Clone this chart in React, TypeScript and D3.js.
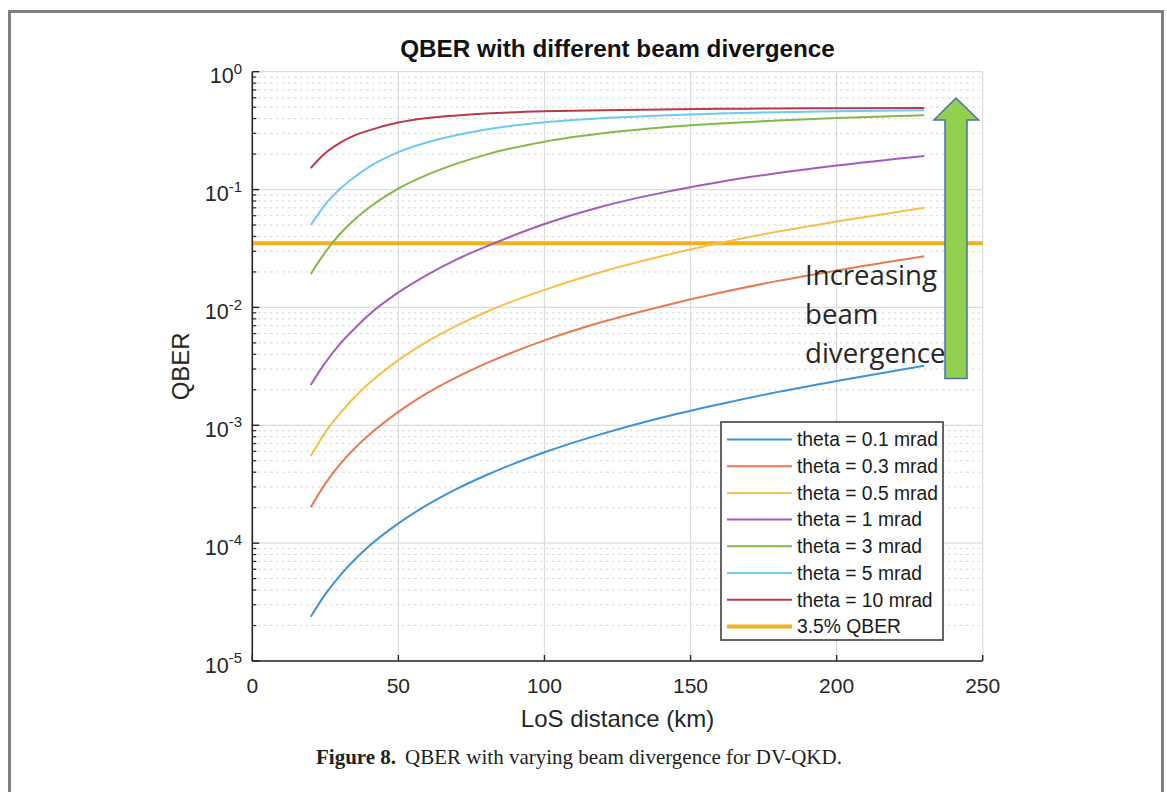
import React from "react";
import * as d3 from "d3";

// LoS distance samples (km)
const distances = [20, 25, 30, 35, 40, 50, 60, 70, 80, 100, 120, 140, 160, 180, 200, 230];

// QBER for each beam divergence, one value per distance sample
const qberTheta01 = [2.37e-5, 3.69e-5, 5.31e-5, 7.23e-5, 9.44e-5, 1.47e-4, 2.12e-4, 2.89e-4, 3.77e-4, 5.9e-4, 8.5e-4, 1.16e-3, 1.51e-3, 1.92e-3, 2.38e-3, 3.2e-3];
const qberTheta03 = [2.02e-4, 3.2e-4, 4.65e-4, 6.35e-4, 8.3e-4, 1.3e-3, 1.88e-3, 2.56e-3, 3.35e-3, 5.25e-3, 7.55e-3, 0.0102, 0.0133, 0.0168, 0.0206, 0.0272];
const qberTheta05 = [5.5e-4, 8.7e-4, 1.26e-3, 1.73e-3, 2.27e-3, 3.57e-3, 5.15e-3, 7.0e-3, 9.15e-3, 0.0141, 0.0202, 0.0272, 0.0352, 0.044, 0.0535, 0.07];
const qberTheta1 = [2.2e-3, 3.4e-3, 4.9e-3, 6.6e-3, 8.7e-3, 0.0134, 0.019, 0.0256, 0.0328, 0.051, 0.0722, 0.0937, 0.116, 0.138, 0.16, 0.193];
const qberTheta3 = [0.0192, 0.0295, 0.042, 0.0558, 0.0705, 0.102, 0.134, 0.166, 0.198, 0.255, 0.3, 0.336, 0.364, 0.386, 0.404, 0.428];
const qberTheta5 = [0.05, 0.075, 0.101, 0.128, 0.156, 0.208, 0.252, 0.29, 0.323, 0.373, 0.404, 0.426, 0.442, 0.453, 0.461, 0.471];
const qberTheta10 = [0.152, 0.204, 0.249, 0.288, 0.318, 0.37, 0.404, 0.425, 0.441, 0.461, 0.472, 0.479, 0.484, 0.487, 0.49, 0.492];

const seriesLabels = [
  "theta = 0.1 mrad",
  "theta = 0.3 mrad",
  "theta = 0.5 mrad",
  "theta = 1 mrad",
  "theta = 3 mrad",
  "theta = 5 mrad",
  "theta = 10 mrad",
];
const seriesValues = [qberTheta01, qberTheta03, qberTheta05, qberTheta1, qberTheta3, qberTheta5, qberTheta10];
const seriesColors = ["#3d93d5", "#e77a4f", "#f2c14e", "#a25dbb", "#84b84a", "#6ccaf0", "#b8394e"];

// QBER threshold line
const thresholdLabel = "3.5% QBER";
const thresholdValue = 0.035;
const thresholdColor = "#f2b01e";

const xTicks = [0, 50, 100, 150, 200, 250];
const yDecades = [-5, -4, -3, -2, -1, 0];

const titleText = "QBER with different beam divergence";
const xLabel = "LoS distance (km)";
const yLabel = "QBER";
const noteLines = ["Increasing", "beam", "divergence"];
const captionLead = "Figure 8.";
const captionBody = "QBER with varying beam divergence for DV-QKD.";

const SANS = "'Liberation Sans', Arial, Helvetica, sans-serif";

export default function App() {
  const left = 252.3;
  const right = 982.7;
  const top = 71.7;
  const bottom = 661;

  const x = d3.scaleLinear().domain([0, 250]).range([left, right]);
  const y = d3.scaleLog().domain([1e-5, 1]).range([bottom, top]);

  const line = d3
    .line<[number, number]>()
    .x((d) => x(d[0]))
    .y((d) => y(d[1]))
    .curve(d3.curveMonotoneX);

  const minorValues: number[] = [];
  yDecades.slice(0, -1).forEach((e) => {
    for (let m = 2; m <= 9; m++) minorValues.push(m * Math.pow(10, e));
  });

  const axisColor = "#262626";

  // legend geometry
  const lgX = 721;
  const lgY = 422;
  const lgW = 222;
  const lgH = 218;
  const rowH = 26.7;
  const firstRow = 439.5;

  // green block arrow
  const shaftL = 945, shaftR = 967, shaftBottom = 378.5;
  const headL = 934, headR = 978.5, headBase = 120, tipX = 956, tipY = 98;
  const arrowPath = `M${shaftL},${shaftBottom} L${shaftL},${headBase} L${headL},${headBase} L${tipX},${tipY} L${headR},${headBase} L${shaftR},${headBase} L${shaftR},${shaftBottom} Z`;

  return (
    <svg
      width={1167}
      height={792}
      style={{ position: "absolute", left: 0, top: 0, background: "#fff" }}
    >
      <rect x={0} y={0} width={1167} height={792} fill="#fff" />
      {/* outer frame */}
      <rect x={9.5} y={11.5} width={1153} height={900} fill="none" stroke="#808080" strokeWidth={3} />

      {/* minor grid */}
      {minorValues.map((v, i) => (
        <line
          key={"mg" + i}
          x1={left}
          x2={right}
          y1={y(v)}
          y2={y(v)}
          stroke="#cccccc"
          strokeWidth={1}
          strokeDasharray="2,4"
        />
      ))}
      {/* major grid */}
      {yDecades.map((e) => (
        <line key={"gy" + e} x1={left} x2={right} y1={y(Math.pow(10, e))} y2={y(Math.pow(10, e))} stroke="#dcdcdc" strokeWidth={1.2} />
      ))}
      {xTicks.map((t) => (
        <line key={"gx" + t} x1={x(t)} x2={x(t)} y1={top} y2={bottom} stroke="#dcdcdc" strokeWidth={1.2} />
      ))}

      {/* threshold */}
      <line x1={left} x2={right} y1={y(thresholdValue)} y2={y(thresholdValue)} stroke={thresholdColor} strokeWidth={4} />

      {/* curves */}
      {seriesValues.map((vals, i) => (
        <path
          key={"s" + i}
          d={line(distances.map((d, j) => [d, vals[j]] as [number, number])) || ""}
          fill="none"
          stroke={seriesColors[i]}
          strokeWidth={2}
        />
      ))}

      {/* axes */}
      <line x1={left} x2={left} y1={top} y2={bottom} stroke={axisColor} strokeWidth={1.6} />
      <line x1={left} x2={right} y1={bottom} y2={bottom} stroke={axisColor} strokeWidth={1.6} />
      {xTicks.map((t) => (
        <g key={"xt" + t}>
          <line x1={x(t)} x2={x(t)} y1={bottom} y2={bottom - 6} stroke={axisColor} strokeWidth={1.4} />
          <text x={x(t)} y={692.7} textAnchor="middle" fontFamily={SANS} fontSize={21} fill="#262626">
            {t}
          </text>
        </g>
      ))}
      {minorValues.map((v, i) => (
        <line key={"mt" + i} x1={left} x2={left + 4} y1={y(v)} y2={y(v)} stroke={axisColor} strokeWidth={1.2} />
      ))}
      {yDecades.map((e) => {
        const yy = y(Math.pow(10, e));
        return (
          <g key={"yt" + e}>
            <line x1={left} x2={left + 7} y1={yy} y2={yy} stroke={axisColor} strokeWidth={1.4} />
            <text x={242} y={yy + 11.6} textAnchor="end" fontFamily={SANS} fontSize={21.5} fill="#262626">
              10
              <tspan dy={-9.5} fontSize={15}>
                {e === 0 ? "0" : "-" + Math.abs(e)}
              </tspan>
            </text>
          </g>
        );
      })}

      {/* titles */}
      <text x={(left + right) / 2} y={57} textAnchor="middle" fontFamily={SANS} fontWeight="bold" fontSize={24.3} fill="#111">
        {titleText}
      </text>
      <text x={(left + right) / 2} y={727} textAnchor="middle" fontFamily={SANS} fontSize={24} fill="#262626">
        {xLabel}
      </text>
      <text
        transform={`translate(189,${(top + bottom) / 2}) rotate(-90)`}
        textAnchor="middle"
        fontFamily={SANS}
        fontSize={24}
        fill="#262626"
      >
        {yLabel}
      </text>

      {/* legend */}
      <rect x={lgX} y={lgY} width={lgW} height={lgH} fill="#fff" stroke="#333" strokeWidth={1.5} />
      {seriesLabels.concat([thresholdLabel]).map((lab, i) => {
        const cy = firstRow + i * rowH;
        const isThr = i === seriesLabels.length;
        return (
          <g key={"lg" + i}>
            <line
              x1={727}
              x2={792}
              y1={cy}
              y2={cy}
              stroke={isThr ? thresholdColor : seriesColors[i]}
              strokeWidth={isThr ? 4 : 2}
            />
            <text x={797} y={cy + 6.8} fontFamily={SANS} fontSize={19.3} fill="#1a1a1a">
              {lab}
            </text>
          </g>
        );
      })}

      {/* annotation */}
      <path d={arrowPath} fill="#92d050" stroke="#4a72a8" strokeWidth={1.5} />
      {noteLines.map((t, i) => (
        <text key={"n" + i} x={805} y={285 + i * 39} fontFamily="'Open Sans', sans-serif" fontSize={27.6} fill="#262626">
          {t}
        </text>
      ))}

      {/* caption */}
      <text x={316} y={764} fontFamily="'Liberation Serif', 'Times New Roman', serif" fontSize={21} fill="#231f20">
        <tspan fontWeight="bold">{captionLead}</tspan>
        <tspan dx={9}>{captionBody}</tspan>
      </text>
    </svg>
  );
}
